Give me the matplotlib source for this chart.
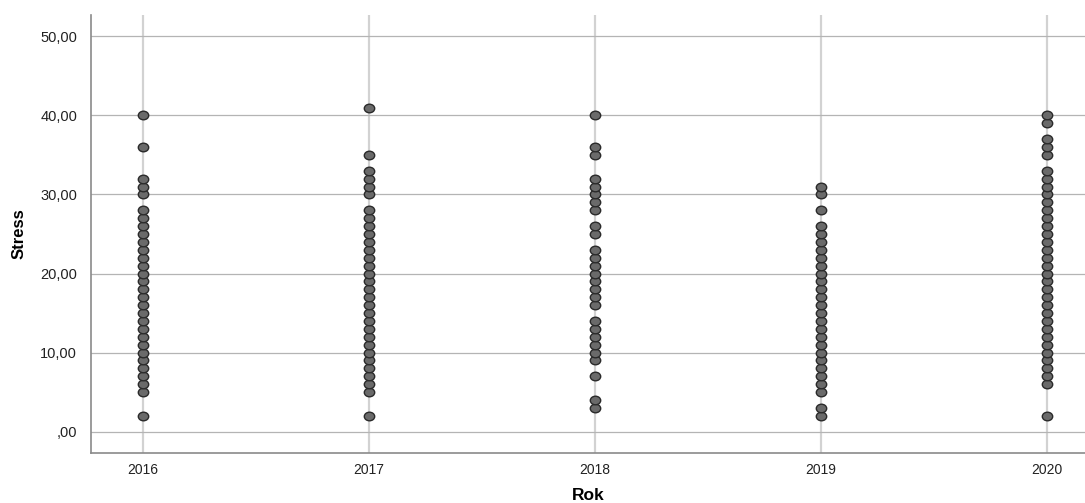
import matplotlib
matplotlib.use("Agg")
import matplotlib.pyplot as plt
import numpy as np
from matplotlib.path import Path

plt.rcParams['font.family'] = ['Liberation Sans', 'DejaVu Sans']

years = [2016, 2017, 2018, 2019, 2020]

stress_2016 = [2] + list(range(5, 29)) + [30, 31, 32, 36, 40]
stress_2017 = [2] + list(range(5, 29)) + [30, 31, 32, 33, 35, 41]
stress_2018 = [3, 4, 7, 9, 10, 11, 12, 13, 14, 16, 17, 18, 19, 20, 21, 22, 23,
               25, 26, 28, 29, 30, 31, 32, 35, 36, 40]
stress_2019 = [2, 3] + list(range(5, 27)) + [28, 30, 31]
stress_2020 = [2] + list(range(6, 34)) + [35, 36, 37, 39, 40]

stress_by_year = [stress_2016, stress_2017, stress_2018, stress_2019, stress_2020]

y_ticks = [0, 10, 20, 30, 40, 50]
y_tick_labels = [',00', '10,00', '20,00', '30,00', '40,00', '50,00']
x_tick_labels = ['2016', '2017', '2018', '2019', '2020']

# slightly wide elliptical marker (like the reference)
circ = Path.unit_circle()
ellipse = Path(circ.vertices * np.array([1.15, 0.95]), circ.codes)

fig = plt.figure(figsize=(10.85, 5.03), dpi=100)
ax = fig.add_axes([91/1085, 1 - 453/503, 994/1085, (453 - 15)/503])

for yr, vals in zip(years, stress_by_year):
    ax.scatter([yr] * len(vals), vals, s=56, marker=ellipse, facecolor='#6a6a6a',
               edgecolor='#2a2a2a', linewidth=1.0, zorder=3)

ax.set_xlim(2015.77, 2020.17)
ax.set_ylim(-2.7, 52.7)
ax.set_yticks(y_ticks)
ax.set_yticklabels(y_tick_labels)
ax.set_xticks(years)
ax.set_xticklabels(x_tick_labels)

ax.grid(axis='y', color='#b4b4b4', linewidth=0.9, zorder=0)
ax.grid(axis='x', color='#d2d2d2', linewidth=1.6, zorder=0)

for s in ['top', 'right']:
    ax.spines[s].set_visible(False)
for s in ['left', 'bottom']:
    ax.spines[s].set_color('#8a8a8a')
    ax.spines[s].set_linewidth(1.2)

ax.tick_params(axis='y', length=0, pad=10, labelsize=10.5, labelcolor='#222222')
ax.tick_params(axis='x', length=0, pad=7, labelsize=10, labelcolor='#222222')

ax.set_ylabel('Stress', fontsize=12, fontweight='bold', labelpad=10)
ax.set_xlabel('Rok', fontsize=12.5, fontweight='bold', labelpad=8)

fig.savefig('out.png', dpi=100)
